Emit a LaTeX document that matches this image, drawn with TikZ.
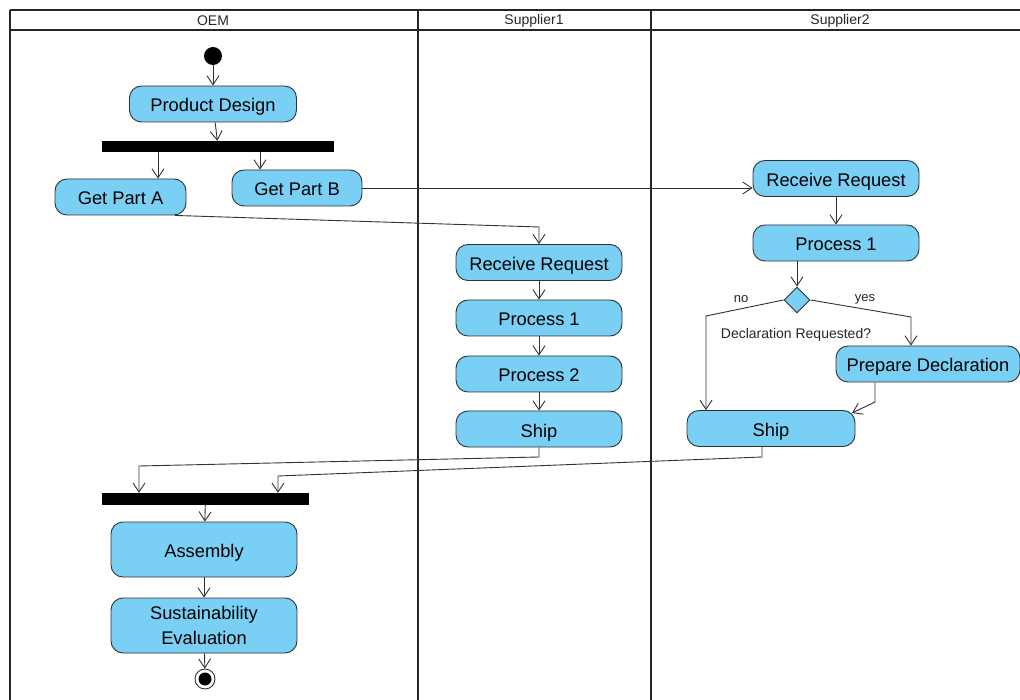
\documentclass[tikz,border=0pt]{standalone}
\usepackage{fontspec}
\setmainfont{Liberation Sans}
\usetikzlibrary{arrows.meta,shapes.geometric}
\definecolor{actblue}{RGB}{122,207,245}
\definecolor{edgegray}{RGB}{50,50,50}
\tikzset{
	action/.style={draw=edgegray, line width=0.9pt, fill=actblue, rounded corners=12pt, inner sep=0pt,
		minimum height=36pt, text height=16pt, text depth=0pt,
		font=\fontsize{18.3}{24}\selectfont, align=center},
	syncbar/.style={fill=black, inner sep=0pt, minimum height=11pt},
	decision/.style={diamond, draw=edgegray, line width=0.9pt, fill=actblue, inner sep=0pt, minimum size=26pt},
	flow/.style={draw=edgegray, line width=0.9pt, -{Straight Barb[length=9pt,width=12pt]}},
	lane/.style={line width=2pt, black!85},
	guard/.style={font=\fontsize{13}{15}\selectfont, text=black!85}
}
\begin{document}
\begin{tikzpicture}[x=1pt, y=-1pt]
			\useasboundingbox (0,0) rectangle (1020,700);
			% swimlanes
			\draw [lane] (10,10) -- (1020,10);
			\draw [lane] (10,30) -- (1020,30);
			\draw [lane] (10,10) -- (10,700);
			\draw [lane] (418,10) -- (418,700);
			\draw [lane] (651,10) -- (651,700);
			\node [guard, font=\fontsize{14}{16}\selectfont] (oem) at (213,21) {OEM};
			\node [guard, font=\fontsize{14}{16}\selectfont] (sup1) at (534,21) {Supplier1};
			\node [guard, font=\fontsize{14}{16}\selectfont] (sup2) at (840,21) {Supplier2};
			% OEM
			\node [circle, fill=black, minimum size=18pt, inner sep=0pt] (init) at (213,56) {};
			\node [action, minimum width=167pt] (design) at (213,104) {Product Design};
			\node [syncbar, minimum width=232pt] (fork) at (218,146.5) {};
			\node [action, minimum width=131pt] (partA) at (120.5,197) {Get Part A};
			\node [action, minimum width=130pt] (partB) at (297,188) {Get Part B};
			% Supplier1
			\node [action, minimum width=166pt] (recvA) at (539,262.5) {Receive Request};
			\node [action, minimum width=166pt] (procA1) at (539,318) {Process 1};
			\node [action, minimum width=166pt] (procA2) at (539,374) {Process 2};
			\node [action, minimum width=166pt] (shipA) at (539,429) {Ship};
			% Supplier2
			\node [action, minimum width=166pt] (recvB) at (836,178.5) {Receive Request};
			\node [action, minimum width=166pt] (procB1) at (836,243) {Process 1};
			\node [decision] (decl) at (797,300) {};
			\node [guard] (no) at (741,299) {no};
			\node [guard] (yes) at (865,299) {yes};
			\node [guard, font=\fontsize{14}{16}\selectfont] (question) at (796,335) {Declaration Requested?};
			\node [action, minimum width=184pt] (prep) at (928,364) {Prepare Declaration};
			\node [action, minimum width=168pt] (shipB) at (771,428.5) {Ship};
			% join and finish
			\node [syncbar, minimum width=207pt, minimum height=12pt] (join) at (205.5,499) {};
			\node [action, minimum width=186pt, minimum height=55pt] (assembly) at (204,549.5) {Assembly};
			\node [action, minimum width=186pt, minimum height=55pt, text height=, text depth=] (evaluation) at (204,625.5) {Sustainability\\[1pt]Evaluation};
			\node [circle, draw=edgegray, line width=0.9pt, fill=white, minimum size=20pt, inner sep=0pt] (final) at (205,679) {};
			\fill (final.center) circle (6.5);
			% flows
			\draw [flow] (init) -- (design);
			\draw [flow] (design) -- (fork);
			\draw [flow] (fork.south -| 158,0) -- (partA.north -| 158,0);
			\draw [flow] (fork.south -| 260,0) -- (partB.north -| 260,0);
			\draw [flow] (partA.south -| 175,0) -- (539,227) -- (recvA);
			\draw [flow] (partB.east) -- (recvB.west |- partB.east);
			\draw [flow] (recvA) -- (procA1);
			\draw [flow] (procA1) -- (procA2);
			\draw [flow] (procA2) -- (shipA);
			\draw [flow] (recvB) -- (procB1);
			\draw [flow] (procB1.south -| decl) -- (decl);
			\draw [flow] (decl.west) -- (706,316) -- (shipB.north -| 706,0);
			\draw [flow] (decl.east) -- (911,317) -- (prep.north -| 911,0);
			\draw [flow] (prep.south -| 875,0) -- (875,402) -- (852,413);
			\draw [flow] (shipA) -- (539,457) -- (139,466) -- (join.north -| 139,0);
			\draw [flow] (shipB.south -| 762,0) -- (762,457) -- (278,476) -- (join.north -| 278,0);
			\draw [flow] (join) -- (assembly);
			\draw [flow] (assembly) -- (evaluation);
			\draw [flow] (evaluation) -- (final);
		\end{tikzpicture}
\end{document}
